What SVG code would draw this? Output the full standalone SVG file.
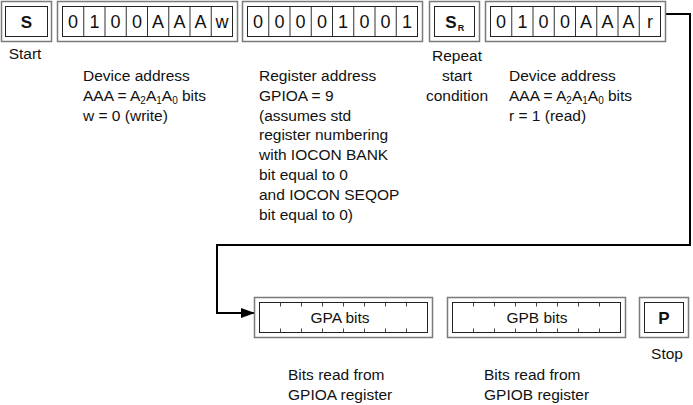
<svg xmlns="http://www.w3.org/2000/svg" width="693" height="405" viewBox="0 0 693 405">
<defs>
<style>
.outer{fill:#fff;stroke:#7a7a7a;stroke-width:1.5}
.inner{fill:#fff;stroke:#222;stroke-width:1}
.div{stroke:#333;stroke-width:1}
.tick{stroke:#444;stroke-width:1}
.cell{font-family:"Liberation Sans",Arial,sans-serif;font-size:18px;fill:#111;text-anchor:middle}
.bold{font-family:"Liberation Sans",Arial,sans-serif;font-size:17px;font-weight:bold;fill:#111;text-anchor:middle}
.lbl{font-family:"Liberation Sans",Arial,sans-serif;font-size:15.5px;fill:#111}
.mid{text-anchor:middle}
.sub{font-size:10px}
.conn{fill:none;stroke:#000;stroke-width:2}
</style>
<marker id="arr" markerWidth="14" markerHeight="10" refX="13" refY="5" orient="auto" markerUnits="userSpaceOnUse">
<path d="M0,0 L14,5 L0,10 Z" fill="#000"/>
</marker>
</defs>

<g id="connectors">
<path class="conn" d="M665.5,14 H690 V245 H217 V313 H254" marker-end="url(#arr)"/>
</g>

<g id="start">
<rect class="outer" x="1.5" y="1.5" width="50" height="40"/>
<rect class="inner" x="5.5" y="6.5" width="42" height="30"/>
<text class="bold" x="26.5" y="28">S</text>
<text class="lbl mid" x="25" y="59">Start</text>
</g>

<g id="device-write">
<rect class="outer" x="57.5" y="1.5" width="180" height="40"/>
<rect class="inner" x="62.5" y="6.5" width="170" height="30"/>
<path class="div" d="M83.75,6.5V36.5M105,6.5V36.5M126.25,6.5V36.5M147.5,6.5V36.5M168.75,6.5V36.5M190,6.5V36.5M211.25,6.5V36.5"/>
<text class="cell" x="73.1" y="28">0</text>
<text class="cell" x="94.4" y="28">1</text>
<text class="cell" x="115.6" y="28">0</text>
<text class="cell" x="136.9" y="28">0</text>
<text class="cell" x="158.1" y="28">A</text>
<text class="cell" x="179.4" y="28">A</text>
<text class="cell" x="200.6" y="28">A</text>
<text class="cell" x="221.9" y="28">w</text>
<text class="lbl" x="83" y="81">Device address</text>
<text class="lbl" x="83" y="101">AAA = A<tspan class="sub" dy="3">2</tspan><tspan dy="-3">A</tspan><tspan class="sub" dy="3">1</tspan><tspan dy="-3">A</tspan><tspan class="sub" dy="3">0</tspan><tspan dy="-3"> bits</tspan></text>
<text class="lbl" x="83" y="121">w = 0 (write)</text>
</g>

<g id="register-address">
<rect class="outer" x="242.5" y="1.5" width="180" height="40"/>
<rect class="inner" x="247.5" y="6.5" width="170" height="30"/>
<path class="div" d="M268.75,6.5V36.5M290,6.5V36.5M311.25,6.5V36.5M332.5,6.5V36.5M353.75,6.5V36.5M375,6.5V36.5M396.25,6.5V36.5"/>
<text class="cell" x="258.1" y="28">0</text>
<text class="cell" x="279.4" y="28">0</text>
<text class="cell" x="300.6" y="28">0</text>
<text class="cell" x="321.9" y="28">0</text>
<text class="cell" x="343.1" y="28">1</text>
<text class="cell" x="364.4" y="28">0</text>
<text class="cell" x="385.6" y="28">0</text>
<text class="cell" x="406.9" y="28">1</text>
<text class="lbl" x="259" y="81">Register address</text>
<text class="lbl" x="259" y="101">GPIOA = 9</text>
<text class="lbl" x="259" y="121">(assumes std</text>
<text class="lbl" x="259" y="140">register numbering</text>
<text class="lbl" x="259" y="160">with IOCON BANK</text>
<text class="lbl" x="259" y="180">bit equal to 0</text>
<text class="lbl" x="259" y="200">and IOCON SEQOP</text>
<text class="lbl" x="259" y="220">bit equal to 0)</text>
</g>

<g id="repeat-start">
<rect class="outer" x="429.5" y="1.5" width="50" height="40"/>
<rect class="inner" x="434.5" y="6.5" width="40" height="30"/>
<text class="bold" x="451" y="28">S</text>
<text class="bold" x="461" y="31" style="font-size:9px">R</text>
<text class="lbl mid" x="457" y="61">Repeat</text>
<text class="lbl mid" x="457" y="81">start</text>
<text class="lbl mid" x="457" y="101">condition</text>
</g>

<g id="device-read">
<rect class="outer" x="485.5" y="1.5" width="180" height="40"/>
<rect class="inner" x="490.5" y="6.5" width="170" height="30"/>
<path class="div" d="M511.75,6.5V36.5M533,6.5V36.5M554.25,6.5V36.5M575.5,6.5V36.5M596.75,6.5V36.5M618,6.5V36.5M639.25,6.5V36.5"/>
<text class="cell" x="501.1" y="28">0</text>
<text class="cell" x="522.4" y="28">1</text>
<text class="cell" x="543.6" y="28">0</text>
<text class="cell" x="564.9" y="28">0</text>
<text class="cell" x="586.1" y="28">A</text>
<text class="cell" x="607.4" y="28">A</text>
<text class="cell" x="628.6" y="28">A</text>
<text class="cell" x="649.9" y="28">r</text>
<text class="lbl" x="509" y="81">Device address</text>
<text class="lbl" x="509" y="101">AAA = A<tspan class="sub" dy="3">2</tspan><tspan dy="-3">A</tspan><tspan class="sub" dy="3">1</tspan><tspan dy="-3">A</tspan><tspan class="sub" dy="3">0</tspan><tspan dy="-3"> bits</tspan></text>
<text class="lbl" x="509" y="121">r = 1 (read)</text>
</g>

<g id="gpa">
<rect class="outer" x="254.5" y="297.5" width="178" height="40"/>
<rect class="inner" x="259.5" y="302.5" width="168" height="30"/>
<path class="tick" d="M280.5,302.5v4M301.5,302.5v4M322.5,302.5v4M343.5,302.5v4M364.5,302.5v4M385.5,302.5v4M406.5,302.5v4M280.5,332.5v-4M301.5,332.5v-4M322.5,332.5v-4M343.5,332.5v-4M364.5,332.5v-4M385.5,332.5v-4M406.5,332.5v-4"/>
<text class="lbl mid" x="340" y="323">GPA bits</text>
<text class="lbl" x="288" y="380">Bits read from</text>
<text class="lbl" x="288" y="400">GPIOA register</text>
</g>

<g id="gpb">
<rect class="outer" x="447.5" y="297.5" width="178" height="40"/>
<rect class="inner" x="452.5" y="302.5" width="168" height="30"/>
<path class="tick" d="M473.5,302.5v4M494.5,302.5v4M515.5,302.5v4M536.5,302.5v4M557.5,302.5v4M578.5,302.5v4M599.5,302.5v4M473.5,332.5v-4M494.5,332.5v-4M515.5,332.5v-4M536.5,332.5v-4M557.5,332.5v-4M578.5,332.5v-4M599.5,332.5v-4"/>
<text class="lbl mid" x="537" y="323">GPB bits</text>
<text class="lbl" x="484" y="380">Bits read from</text>
<text class="lbl" x="484" y="400">GPIOB register</text>
</g>

<g id="stop">
<rect class="outer" x="639.5" y="297.5" width="49" height="40"/>
<rect class="inner" x="644.5" y="302.5" width="39" height="30"/>
<text class="bold" x="664" y="324">P</text>
<text class="lbl mid" x="667" y="359">Stop</text>
</g>
</svg>
